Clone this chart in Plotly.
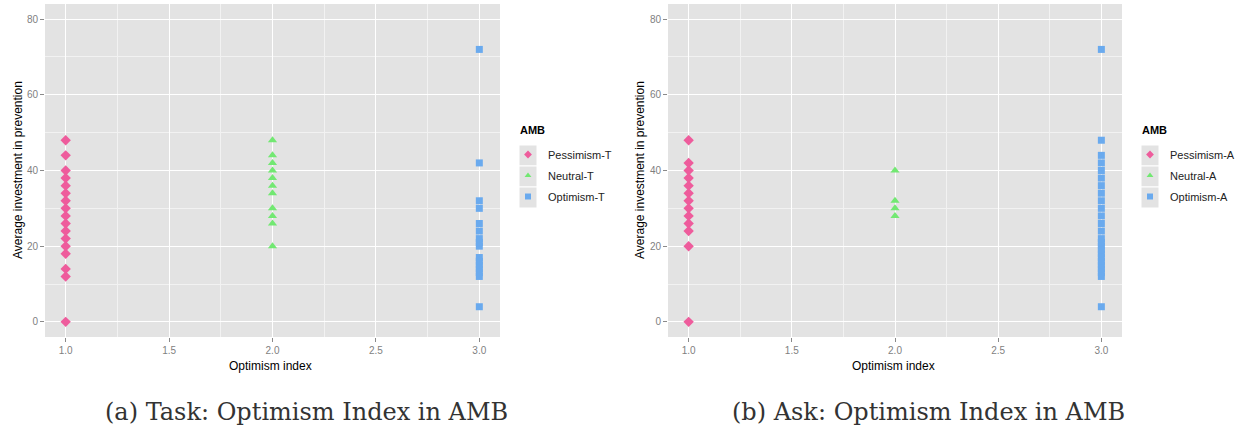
import plotly.graph_objects as go

W, H = 1249, 434

# ---- data ----
pess_T = [0, 12, 14, 18, 20, 22, 24, 26, 28, 30, 32, 34, 36, 38, 40, 44, 48]
neut_T = [20, 26, 28, 30, 34, 36, 38, 40, 42, 44, 48]
opt_T = [4, 12, 13, 14, 15, 16, 17, 20, 21, 22, 24, 26, 30, 32, 42, 72]

pess_A = [0, 20, 24, 26, 28, 30, 32, 34, 36, 38, 40, 42, 48]
neut_A = [28, 30, 32, 40]
opt_A = [4, 12, 13, 14, 15, 16, 17, 18, 19, 20, 21, 22, 24, 26, 28, 30, 32,
         34, 36, 38, 40, 42, 44, 48, 72]

x_ticks = [1.0, 1.5, 2.0, 2.5, 3.0]
y_ticks = [0, 20, 40, 60, 80]
captions = ["(a) Task: Optimism Index in AMB", "(b) Ask: Optimism Index in AMB"]
legend_title = "AMB"
x_title = "Optimism index"
y_title = "Average investment in prevention"

PINK = "#EE5C9C"
GREEN = "#72E872"
BLUE = "#6AAAEE"
BG = "#E3E3E3"


def px_x(p):
    return p / W


def px_y(p):
    return 1 - p / H


fig = go.Figure()

panels = [
    dict(x0=45, x1=500, data=[(pess_T, "Pessimism-T", 1.0, "diamond", PINK),
                               (neut_T, "Neutral-T", 2.0, "triangle-up", GREEN),
                               (opt_T, "Optimism-T", 3.0, "square", BLUE)],
         xa="x", ya="y", leg="legend", cap_x=306, key_x=528),
    dict(x0=668, x1=1122, data=[(pess_A, "Pessimism-A", 1.0, "diamond", PINK),
                                 (neut_A, "Neutral-A", 2.0, "triangle-up", GREEN),
                                 (opt_A, "Optimism-A", 3.0, "square", BLUE)],
         xa="x2", ya="y2", leg="legend2", cap_x=928, key_x=1150),
]

layout = dict(width=W, height=H, margin=dict(l=0, r=0, t=0, b=0, autoexpand=False),
              paper_bgcolor="white", plot_bgcolor=BG, font=dict(family="Liberation Sans"))
annotations = []
shapes = []

for i, p in enumerate(panels):
    sfx = "" if i == 0 else "2"
    for j, (vals, name, xv, sym, col) in enumerate(p["data"]):
        fig.add_trace(go.Scatter(
            x=[xv] * len(vals), y=vals, mode="markers", name=name,
            legendgroup=f"g{i}{j}", showlegend=False,
            marker=dict(symbol=sym, color=col, size=8 if sym != "square" else 7,
                        line=dict(width=0)),
            xaxis=p["xa"], yaxis=p["ya"]))
        # legend entry with smaller key symbol
        fig.add_trace(go.Scatter(
            x=[None], y=[None], mode="markers", name=name,
            legendgroup=f"g{i}{j}", showlegend=True,
            marker=dict(symbol=sym, color=col, size=6, line=dict(width=0)),
            xaxis=p["xa"], yaxis=p["ya"], legend=p["leg"]))
    axis_common = dict(showline=False, zeroline=False, ticks="outside", ticklen=4,
                       tickcolor="#8a8a8a", tickfont=dict(size=10, color="#7f7f7f"),
                       gridcolor="white", gridwidth=1.3)
    layout["xaxis" + sfx] = dict(axis_common, domain=[px_x(p["x0"]), px_x(p["x1"])],
                                  range=[0.9, 3.1], tickvals=x_ticks,
                                  ticktext=["%.1f" % t for t in x_ticks],
                                  anchor="y" + sfx,
                                  minor=dict(tickvals=[1.25, 1.75, 2.25, 2.75],
                                             showgrid=True, gridcolor="#F2F2F2",
                                             gridwidth=0.6, ticks=""))
    layout["yaxis" + sfx] = dict(axis_common, domain=[px_y(337), px_y(4)],
                                  range=[-4, 84], tickvals=y_ticks,
                                  anchor="x" + sfx,
                                  minor=dict(tickvals=[10, 30, 50, 70],
                                             showgrid=True, gridcolor="#F2F2F2",
                                             gridwidth=0.6, ticks=""))
    layout[p["leg"]] = dict(x=px_x(p["key_x"] - 20), y=px_y(140), xanchor="left", yanchor="top",
                            font=dict(size=11, color="#222"), bgcolor="rgba(0,0,0,0)",
                            tracegroupgap=2, itemsizing="trace")
    # legend key backgrounds (ggplot-like grey key boxes)
    for k in range(3):
        shapes.append(dict(type="rect", xref="paper", yref="paper",
                           x0=px_x(p["key_x"] - 9), x1=px_x(p["key_x"] + 9),
                           y0=px_y(145 + 21 * k), y1=px_y(145 + 21 * (k + 1)),
                           fillcolor=BG, line=dict(color="white", width=1), layer="below"))
    annotations.append(dict(text="<b>" + legend_title + "</b>", x=px_x(p["key_x"] - 10),
                            y=px_y(130), xref="paper", yref="paper", showarrow=False,
                            font=dict(size=11, color="black"), xanchor="left", yanchor="middle"))
    xc = (p["x0"] + p["x1"]) / 2
    annotations.append(dict(text=x_title, x=px_x(xc - 2), y=px_y(366), xref="paper", yref="paper",
                            showarrow=False, font=dict(size=12, color="black"),
                            xanchor="center", yanchor="middle"))
    annotations.append(dict(text=y_title, x=px_x(18 if i == 0 else 640), y=px_y(170),
                            xref="paper", yref="paper", showarrow=False, textangle=-90,
                            font=dict(size=12, color="black"), xanchor="center", yanchor="middle"))
    annotations.append(dict(text=captions[i], x=px_x(p["cap_x"]), y=px_y(412), xref="paper",
                            yref="paper", showarrow=False,
                            font=dict(size=24, color="#333", family="DejaVu Serif"),
                            xanchor="center", yanchor="middle"))

layout["annotations"] = annotations
layout["shapes"] = shapes
fig.update_layout(**layout)
fig.write_html("out.html", config={"displayModeBar": False},
               post_script="document.body.style.margin='0';document.body.style.overflow='hidden';")
